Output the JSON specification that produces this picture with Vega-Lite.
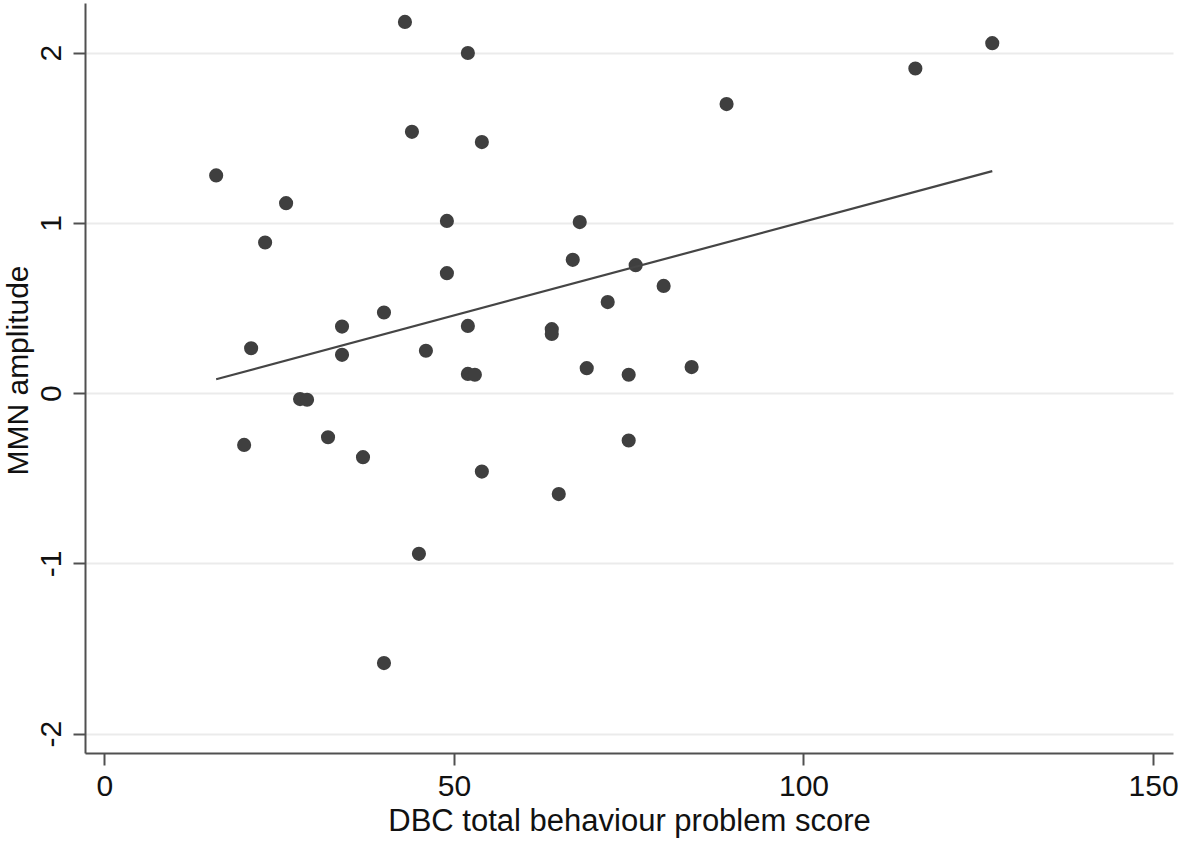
{
  "$schema": "https://vega.github.io/schema/vega-lite/v6.json",
  "width": 1088,
  "height": 750,
  "autosize": {"type": "none"},
  "padding": {"left": 85, "top": 3, "right": 8, "bottom": 88},
  "background": "white",
  "config": {
    "view": {"stroke": null},
    "font": "Liberation Sans"
  },
  "datasets": {
    "points": [
      {"score": 16, "mmn": 1.279},
      {"score": 26, "mmn": 1.116},
      {"score": 23, "mmn": 0.885},
      {"score": 21, "mmn": 0.264},
      {"score": 20, "mmn": -0.304},
      {"score": 43, "mmn": 2.181},
      {"score": 52, "mmn": 1.998},
      {"score": 44, "mmn": 1.535},
      {"score": 54, "mmn": 1.475},
      {"score": 49, "mmn": 1.012},
      {"score": 68, "mmn": 1.005},
      {"score": 49, "mmn": 0.705},
      {"score": 67, "mmn": 0.783},
      {"score": 76, "mmn": 0.752},
      {"score": 80, "mmn": 0.630},
      {"score": 72, "mmn": 0.535},
      {"score": 34, "mmn": 0.391},
      {"score": 40, "mmn": 0.474},
      {"score": 52, "mmn": 0.395},
      {"score": 64, "mmn": 0.376},
      {"score": 64, "mmn": 0.348},
      {"score": 34, "mmn": 0.225},
      {"score": 46, "mmn": 0.249},
      {"score": 52, "mmn": 0.113},
      {"score": 53, "mmn": 0.108},
      {"score": 69, "mmn": 0.147},
      {"score": 75, "mmn": 0.108},
      {"score": 84, "mmn": 0.153},
      {"score": 28, "mmn": -0.035},
      {"score": 29, "mmn": -0.039},
      {"score": 32, "mmn": -0.259},
      {"score": 37, "mmn": -0.376},
      {"score": 54, "mmn": -0.461},
      {"score": 65, "mmn": -0.593},
      {"score": 75, "mmn": -0.278},
      {"score": 45, "mmn": -0.944},
      {"score": 40, "mmn": -1.586},
      {"score": 89, "mmn": 1.698},
      {"score": 116, "mmn": 1.907},
      {"score": 127, "mmn": 2.056}
    ],
    "fit": [
      {"score": 16, "mmn": 0.082},
      {"score": 127, "mmn": 1.304}
    ]
  },
  "encoding": {
    "x": {
      "field": "score",
      "type": "quantitative",
      "scale": {"domain": [-2.76, 152.85], "nice": false, "zero": false},
      "axis": {
        "title": "DBC total behaviour problem score",
        "values": [0, 50, 100, 150],
        "labelExpr": "toString(datum.value)",
        "grid": false,
        "domainColor": "#505050",
        "domainWidth": 2,
        "tickColor": "#505050",
        "tickWidth": 2,
        "tickSize": 12,
        "labelFont": "Liberation Sans",
        "labelFontSize": 30,
        "labelColor": "#111111",
        "labelBaseline": "alphabetic",
        "labelPadding": 30,
        "titleFont": "Liberation Sans",
        "titleFontSize": 31,
        "titleFontWeight": "normal",
        "titleColor": "#111111",
        "titleBaseline": "alphabetic",
        "titleAnchor": "middle",
        "titleX": 544,
        "titleY": 77
      }
    },
    "y": {
      "field": "mmn",
      "type": "quantitative",
      "scale": {"domain": [-2.114, 2.292], "nice": false, "zero": false},
      "axis": {
        "title": "MMN amplitude",
        "values": [-2, -1, 0, 1, 2],
        "labelExpr": "toString(datum.value)",
        "grid": true,
        "gridColor": "#ebebeb",
        "gridWidth": 2,
        "domainColor": "#505050",
        "domainWidth": 2,
        "tickColor": "#505050",
        "tickWidth": 2,
        "tickSize": 12,
        "labelFont": "Liberation Sans",
        "labelFontSize": 30,
        "labelColor": "#111111",
        "labelAngle": -90,
        "labelAlign": "center",
        "labelBaseline": "alphabetic",
        "labelPadding": 13,
        "titleFont": "Liberation Sans",
        "titleFontSize": 30,
        "titleFontWeight": "normal",
        "titleColor": "#111111",
        "titleAngle": -90,
        "titleAlign": "center",
        "titleBaseline": "alphabetic",
        "titleX": -58,
        "titleY": 367
      }
    }
  },
  "layer": [
    {
      "data": {"name": "points"},
      "mark": {"type": "circle", "size": 200, "color": "#3f3f3f", "opacity": 1}
    },
    {
      "data": {"name": "fit"},
      "mark": {"type": "line", "color": "#454545", "strokeWidth": 2.2}
    }
  ]
}
